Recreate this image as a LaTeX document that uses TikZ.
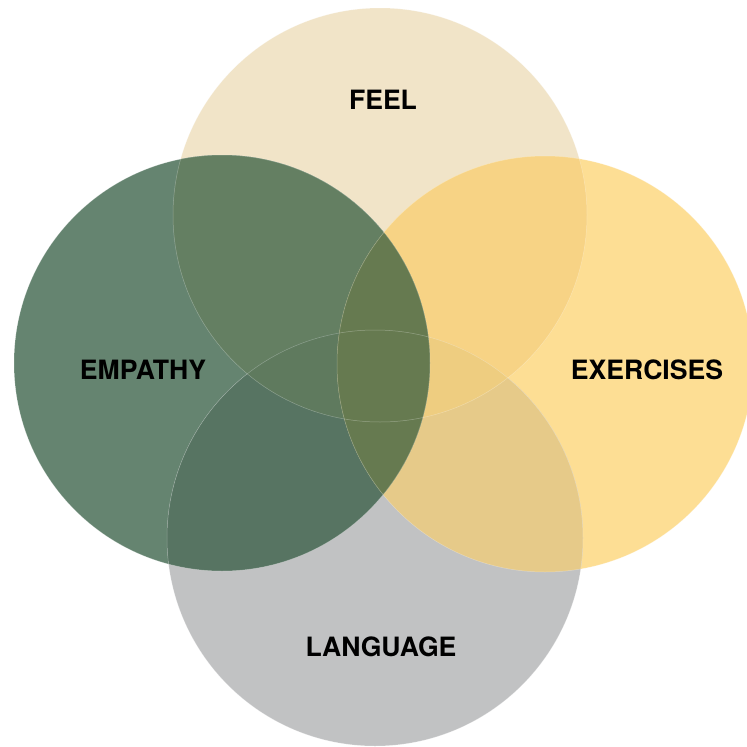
\documentclass[tikz,border=0pt]{standalone}
\usepackage{fontspec}
\setmainfont{TeX Gyre Heros}
\definecolor{cF}{HTML}{F1E4C8}
\definecolor{cE}{HTML}{658470}
\definecolor{cX}{HTML}{FDDE94}
\definecolor{cL}{HTML}{C1C2C3}
\definecolor{cEF}{HTML}{647F62}
\definecolor{cFX}{HTML}{F7D385}
\definecolor{cEL}{HTML}{577462}
\definecolor{cXL}{HTML}{E6CA89}
\definecolor{cOl}{HTML}{667A50}
\definecolor{cEFL}{HTML}{5F7A5E}
\definecolor{cFXL}{HTML}{EECD80}
\def\cirF{(380,215) circle (207pt)}
\def\cirE{(222,363) circle (208pt)}
\def\cirX{(545,364) circle (208pt)}
\def\cirL{(375,538) circle (208pt)}
\tikzset{lbl/.style={font=\bfseries\fontsize{26.6}{30}\selectfont, text=black, inner sep=0pt},
  seam/.style={draw=white, opacity=0.3, line width=0.5pt}}
\begin{document}
\begin{tikzpicture}[x=1pt,y=-1pt]
\fill[white] (0,0) rectangle (747,747);
\useasboundingbox (0,0) rectangle (747,747);
% base circles
\fill[cF] \cirF;
\fill[cE] \cirE;
\fill[cX] \cirX;
\fill[cL] \cirL;
% pairwise overlaps
\begin{scope}\clip \cirE; \fill[cEF] \cirF; \end{scope}
\begin{scope}\clip \cirF; \fill[cFX] \cirX; \end{scope}
\begin{scope}\clip \cirE; \fill[cEL] \cirL; \end{scope}
\begin{scope}\clip \cirX; \fill[cXL] \cirL; \end{scope}
\begin{scope}\clip \cirE; \fill[cOl] \cirX; \end{scope}
% triple overlaps
\begin{scope}\clip \cirE; \clip \cirF; \fill[cEFL] \cirL; \end{scope}
\begin{scope}\clip \cirF; \clip \cirX; \fill[cFXL] \cirL; \end{scope}
\begin{scope}\clip \cirE; \clip \cirX; \fill[cOl] \cirF; \end{scope}
\begin{scope}\clip \cirE; \clip \cirX; \fill[cOl] \cirL; \end{scope}
% faint seams
\path[seam] \cirF;
\path[seam] \cirE;
\path[seam] \cirX;
\path[seam] \cirL;
% labels
\node[lbl] (feel) at (383,99.5) {FEEL};
\node[lbl] (empathy) at (143,370) {EMPATHY};
\node[lbl] (exercises) at (647,370) {EXERCISES};
\node[lbl] (language) at (381,647) {LANGUAGE};
\end{tikzpicture}
\end{document}
